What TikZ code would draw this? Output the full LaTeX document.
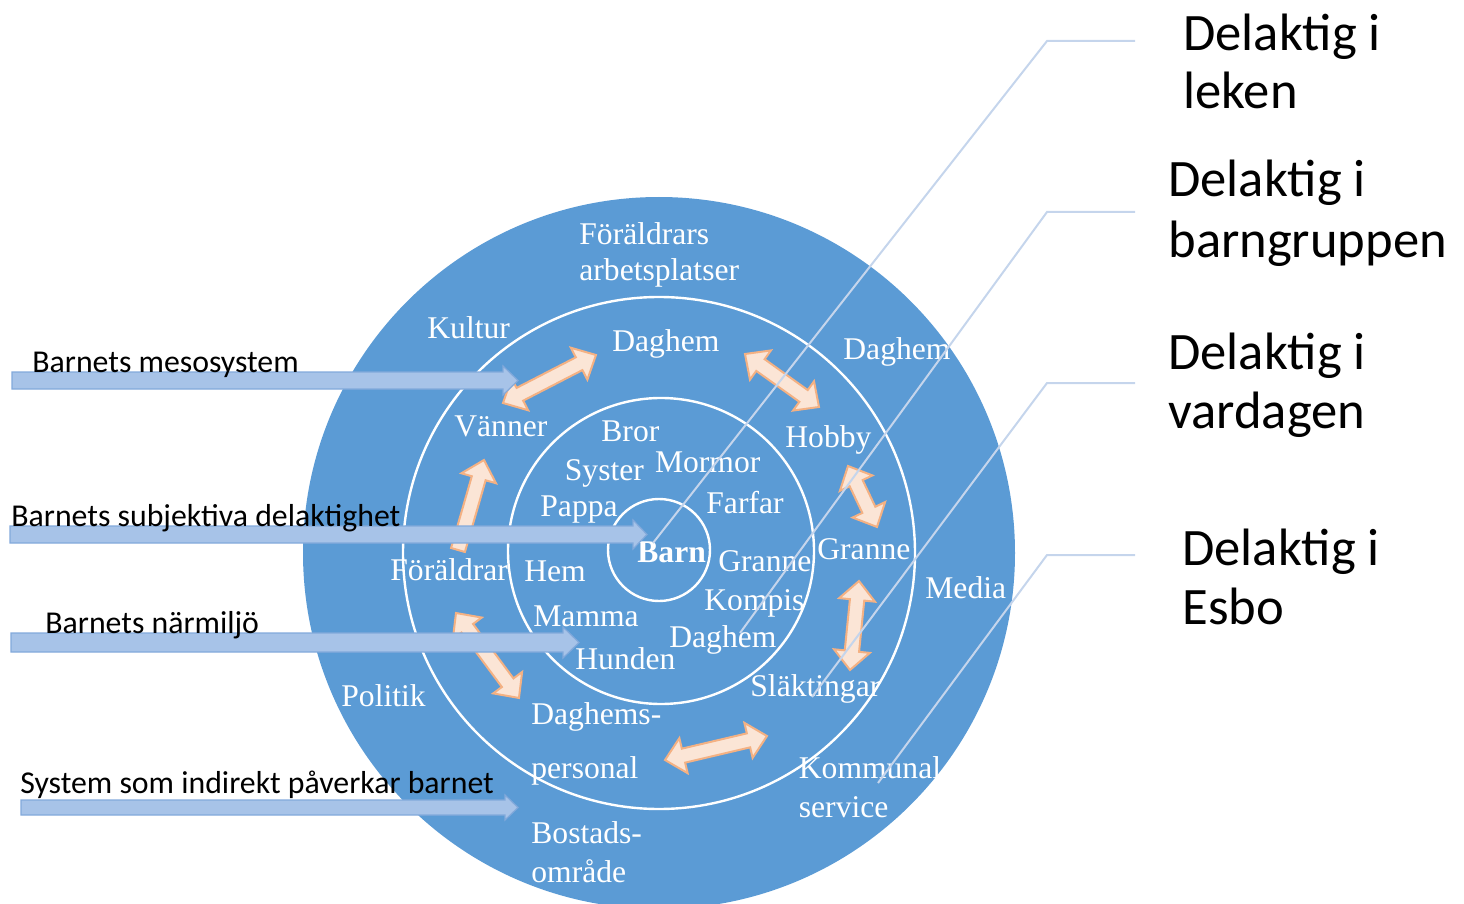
\documentclass[tikz,border=0pt]{standalone}
\usepackage{fontspec}
\setmainfont{Liberation Serif}
\newfontfamily\calfont{Carlito}
\usetikzlibrary{calc}
\definecolor{outerblue}{HTML}{5B9BD5}
\definecolor{peachfill}{HTML}{FBE5D6}
\definecolor{peachline}{HTML}{F4B183}
\definecolor{bafill}{HTML}{A7C3E8}
\definecolor{baline}{HTML}{82A9DB}
\definecolor{callc}{HTML}{C5D5EC}
% #1 style, #2 from, #3 to, #4 half shaft, #5 half head, #6 head length (pt numbers)
\newcommand\singleblockarrow[6]{%
  \path let \p1=($(#3)-(#2)$) in \pgfextra{%
    \pgfmathsetmacro\tmpA{atan2(\y1,\x1)}\xdef\BAang{\tmpA}%
    \pgfmathsetmacro\tmpL{veclen(\x1,\y1)}\xdef\BAlen{\tmpL}};
  \pgfmathsetmacro\BAmid{\BAlen-#6}%
  \begin{scope}[shift={(#2)},rotate=\BAang]
    \draw[#1] (0pt,#4pt) -- (\BAmid pt,#4pt) -- (\BAmid pt,#5pt) -- (\BAlen pt,0pt)
      -- (\BAmid pt,-#5pt) -- (\BAmid pt,-#4pt) -- (0pt,-#4pt) -- cycle;
  \end{scope}}
\newcommand\doubleblockarrow[6]{%
  \path let \p1=($(#3)-(#2)$) in \pgfextra{%
    \pgfmathsetmacro\tmpA{atan2(\y1,\x1)}\xdef\BAang{\tmpA}%
    \pgfmathsetmacro\tmpL{veclen(\x1,\y1)}\xdef\BAlen{\tmpL}};
  \pgfmathsetmacro\BAmid{\BAlen-#6}%
  \begin{scope}[shift={(#2)},rotate=\BAang]
    \draw[#1] (0pt,0pt) -- (#6pt,#5pt) -- (#6pt,#4pt) -- (\BAmid pt,#4pt) -- (\BAmid pt,#5pt)
      -- (\BAlen pt,0pt) -- (\BAmid pt,-#5pt) -- (\BAmid pt,-#4pt) -- (#6pt,-#4pt)
      -- (#6pt,-#5pt) -- cycle;
  \end{scope}}
\begin{document}
\begin{tikzpicture}[x=0.5pt,y=-0.5pt,
  ring/.style={draw=white, line width=1.2pt},
  ct/.style={text=white, font=\fontsize{15.8}{18}\selectfont, anchor=base west, inner sep=0pt},
  lt/.style={text=black, font=\calfont\fontsize{15.9}{19}\selectfont, anchor=base west, inner sep=0pt},
  rt/.style={text=black, font=\calfont\fontsize{26.3}{30}\selectfont, anchor=base west, inner sep=0pt},
  peach/.style={fill=peachfill, draw=peachline, line width=1pt, line join=miter},
  bluearr/.style={fill=bafill, draw=baline, line width=0.6pt},
  callout/.style={draw=callc, line width=1pt}]
\useasboundingbox (0,0) rectangle (1464,904);
\clip (0,0) rectangle (1464,904);

% circles
\fill[outerblue] (659,553) circle (356);
\draw[ring] (659,553) circle (256);
\draw[ring] (661,551) circle (153);
\draw[ring] (659,550) circle (51);

% circle texts
\node[ct] (fa1) at (579,244.6) {Föräldrars};
\node[ct] (fa2) at (579,280.6) {arbetsplatser};
\node[ct] (kultur) at (427,338) {Kultur};
\node[ct] (dagM) at (612,351) {Daghem};
\node[ct] (dagO) at (843,359) {Daghem};
\node[ct] (vanner) at (454,437) {Vänner};
\node[ct] (bror) at (601,441) {Bror};
\node[ct] (hobby) at (785,447) {Hobby};
\node[ct] (syster) at (564.5,480) {Syster};
\node[ct] (mormor) at (654.6,472) {Mormor};
\node[ct] (pappa) at (540,516) {Pappa};
\node[ct] (farfar) at (706,513) {Farfar};
\node[ct,font=\bfseries\fontsize{15.8}{18}\selectfont] (barn) at (637,562) {Barn};
\node[ct] (granneI) at (718,571.5) {Granne};
\node[ct] (granneM) at (817,559.5) {Granne};
\node[ct] (foraldrar) at (390,580) {Föräldrar};
\node[ct] (hem) at (524,581) {Hem};
\node[ct] (media) at (925,598) {Media};
\node[ct] (kompis) at (704,610) {Kompis};
\node[ct] (mamma) at (533,626) {Mamma};
\node[ct] (dagI) at (669,647) {Daghem};
\node[ct] (hunden) at (575,669) {Hunden};
\node[ct] (slakt) at (750,696) {Släktingar};
\node[ct] (politik) at (341,706) {Politik};
\node[ct] (dp1) at (531,724) {Daghems-};
\node[ct] (dp2) at (531,778) {personal};
\node[ct] (ks1) at (798.5,778) {Kommunal};
\node[ct] (ks2) at (798.5,817) {service};
\node[ct] (bo1) at (531,843) {Bostads-};
\node[ct] (bo2) at (531,882) {område};

% peach arrows
\coordinate (pa1) at (503,403); \coordinate (pa2) at (596,355);
\coordinate (pb1) at (745,354); \coordinate (pb2) at (819,407);
\coordinate (pc1) at (848,466); \coordinate (pc2) at (877,527);
\coordinate (pd1) at (859,581); \coordinate (pd2) at (850,670);
\coordinate (pe1) at (665,760); \coordinate (pe2) at (767,736);
\coordinate (pf1) at (456,613); \coordinate (pf2) at (519,698);
\coordinate (pg1) at (458,550); \coordinate (pg2) at (484,460);
\doubleblockarrow{peach}{pa1}{pa2}{3.6}{9}{9.5}
\doubleblockarrow{peach}{pb1}{pb2}{3.6}{9}{9.5}
\doubleblockarrow{peach}{pc1}{pc2}{3.6}{9}{9.5}
\doubleblockarrow{peach}{pd1}{pd2}{3.6}{9}{9.5}
\doubleblockarrow{peach}{pe1}{pe2}{3.6}{9}{9.5}
\doubleblockarrow{peach}{pf1}{pf2}{3.6}{9}{9.5}
\singleblockarrow{peach}{pg1}{pg2}{3.6}{9}{9.5}

% callout lines
\coordinate (c1) at (1135,41);  \coordinate (c1k) at (1047,41);  \coordinate (c1e) at (653,543);
\coordinate (c2) at (1135,212); \coordinate (c2k) at (1047,212); \coordinate (c2e) at (740,633);
\coordinate (c3) at (1135,383); \coordinate (c3k) at (1047,383); \coordinate (c3e) at (812,697);
\coordinate (c4) at (1135,555); \coordinate (c4k) at (1047,555); \coordinate (c4e) at (878,783);
\draw[callout] (c1) -- (c1k) -- (c1e);
\draw[callout] (c2) -- (c2k) -- (c2e);
\draw[callout] (c3) -- (c3k) -- (c3e);
\draw[callout] (c4) -- (c4k) -- (c4e);

% blue arrows
\coordinate (b1s) at (12,380.5);  \coordinate (b1t) at (518,380.5);
\coordinate (b2s) at (10,534.5);  \coordinate (b2t) at (647,534.5);
\coordinate (b3s) at (11,642.5);  \coordinate (b3t) at (579,642.5);
\coordinate (b4s) at (21,807.5);  \coordinate (b4t) at (518,807.5);
\singleblockarrow{bluearr}{b1s}{b1t}{4.25}{7.25}{7.5}
\singleblockarrow{bluearr}{b2s}{b2t}{4.25}{7.25}{7}
\singleblockarrow{bluearr}{b3s}{b3t}{4.75}{7.75}{8}
\singleblockarrow{bluearr}{b4s}{b4t}{3.75}{6.25}{6.5}

% left labels
\node[lt] (lmeso) at (32,372) {Barnets mesosystem};
\node[lt] (lsubj) at (11,526) {Barnets subjektiva delaktighet};
\node[lt] (lnar) at (45,633) {Barnets närmiljö};
\node[lt] (lsys) at (20,793) {System som indirekt påverkar barnet};

% right labels
\node[rt] (r1a) at (1183,51) {Delaktig i};
\node[rt] (r1b) at (1183,109) {leken};
\node[rt] (r2a) at (1168,197) {Delaktig i};
\node[rt] (r2b) at (1168,257) {barngruppen};
\node[rt] (r3a) at (1168,369) {Delaktig i};
\node[rt] (r3b) at (1168,428) {vardagen};
\node[rt] (r4a) at (1182,565) {Delaktig i};
\node[rt] (r4b) at (1182,624) {Esbo};
\end{tikzpicture}
\end{document}
